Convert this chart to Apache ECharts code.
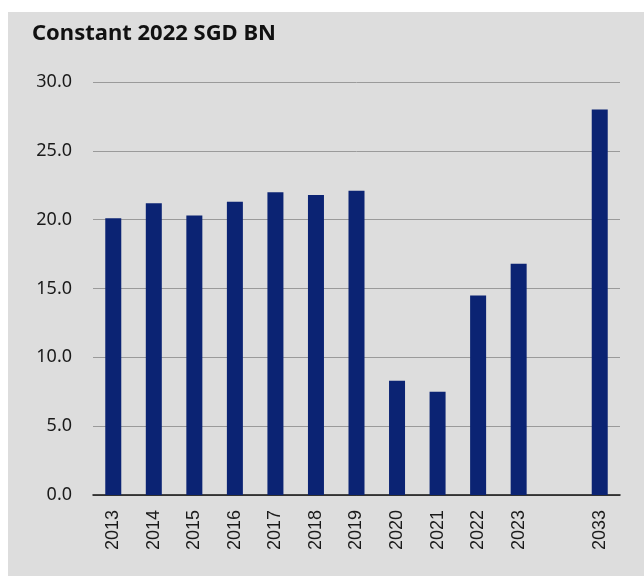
<!DOCTYPE html>
<html>
<head>
<meta charset="utf-8">
<script src="https://cdn.jsdelivr.net/npm/echarts@6/dist/echarts.min.js"></script>
<style>
  html, body { margin: 0; padding: 0; background: #ffffff; }
  #chart { width: 644px; height: 576px; }
</style>
</head>
<body>
<div id="chart"></div>
<script>
// years on the x axis, the empty slot is the gap before 2033
const years = ['2013', '2014', '2015', '2016', '2017', '2018', '2019', '2020', '2021', '2022', '2023', '', '2033'];
// constant 2022 SGD, billions
const values = [20.1, 21.2, 20.3, 21.3, 22.0, 21.8, 22.1, 8.3, 7.5, 14.5, 16.8, null, 28.0];
const yTicks = [0, 5, 10, 15, 20, 25, 30];

const chart = echarts.init(document.getElementById('chart'));

const option = {
  backgroundColor: '#ffffff',
  animation: false,
  graphic: [
    {
      type: 'rect',
      z: -10,
      shape: { x: 8, y: 12, width: 636, height: 564 },
      style: { fill: '#dddddd' }
    }
  ],
  title: {
    text: 'Constant 2022 SGD BN',
    left: 32,
    top: 23,
    padding: 0,
    textStyle: {
      fontFamily: 'Noto Sans',
      fontWeight: 'bold',
      fontSize: 22,
      color: '#111111'
    }
  },
  grid: {
    left: 93,
    right: 24,
    top: 82,
    bottom: 81,
    containLabel: false
  },
  xAxis: {
    type: 'category',
    data: years,
    boundaryGap: true,
    axisTick: { show: false },
    axisLine: { lineStyle: { color: '#111111', width: 1.5 } },
    axisLabel: {
      rotate: 90,
      interval: 0,
      margin: 15,
      fontFamily: 'Liberation Sans',
      fontSize: 18,
      color: '#1a1a1a'
    }
  },
  yAxis: {
    type: 'value',
    min: yTicks[0],
    max: yTicks[yTicks.length - 1],
    interval: 5,
    axisLine: { show: false },
    axisTick: { show: false },
    splitLine: { lineStyle: { color: '#9a9a9a', width: 1 } },
    axisLabel: {
      margin: 21,
      fontFamily: 'Noto Sans',
      fontSize: 18,
      color: '#1a1a1a',
      formatter: v => v.toFixed(1)
    }
  },
  series: [
    {
      type: 'bar',
      data: values,
      barWidth: 16,
      itemStyle: { color: '#0b2373' }
    }
  ]
};

chart.setOption(option);
</script>
</body>
</html>
